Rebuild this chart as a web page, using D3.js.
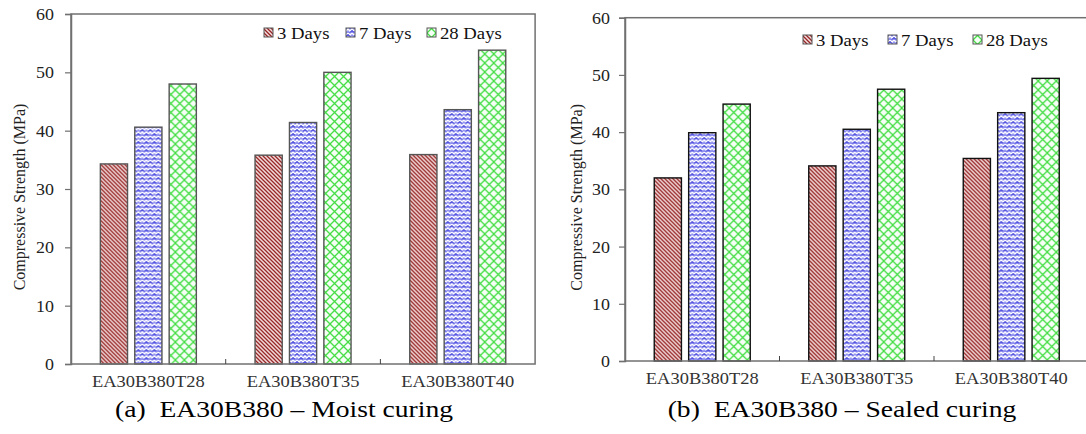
<!DOCTYPE html>
<html>
<head>
<meta charset="utf-8">
<script src="https://d3js.org/d3.v7.min.js"></script>
<style>
    body { margin: 0; background: #fff; }
    text { font-family: "Liberation Serif", "Times New Roman", serif; }
</style>
</head>
<body>
<div id="vis"></div>
<script>
    // data
    var groups = ["EA30B380T28", "EA30B380T35", "EA30B380T40"];
    var series = ["3 Days", "7 Days", "28 Days"];
    var yTicks = [0, 10, 20, 30, 40, 50, 60];

    var moist3 = [34.3, 35.8, 35.9];
    var moist7 = [40.6, 41.4, 43.6];
    var moist28 = [48.0, 50.0, 53.8];

    var sealed3 = [32.0, 34.1, 35.4];
    var sealed7 = [39.9, 40.5, 43.4];
    var sealed28 = [44.9, 47.5, 49.4];

    var svg = d3.select("#vis").append("svg")
        .attr("width", 1086)
        .attr("height", 434);

    /* patterns */
    var defs = svg.append("defs");

    var p3 = defs.append("pattern").attr("id", "pat3")
        .attr("patternUnits", "userSpaceOnUse").attr("width", 4).attr("height", 4);
    p3.append("rect").attr("width", 4).attr("height", 4).attr("fill", "#f4dede");
    p3.append("path").attr("d", "M-1,-1 L5,5 M-1,3 L1,5 M3,-1 L5,1")
        .attr("stroke", "#962424").attr("stroke-width", 1.3);

    var p7 = defs.append("pattern").attr("id", "pat7")
        .attr("patternUnits", "userSpaceOnUse").attr("width", 8).attr("height", 8);
    p7.append("rect").attr("width", 8).attr("height", 8).attr("fill", "#9292f0");
    p7.append("path").attr("d", "M0,2 L2,0 L4,2 L6,0 L8,2 M0,6 L2,4 L4,6 L6,4 L8,6")
        .attr("stroke", "#ffffff").attr("stroke-width", 1.3).attr("fill", "none");
    p7.append("path").attr("d", "M0,3.5 L2,1.5 L4,3.5 M4,7.5 L6,5.5 L8,7.5")
        .attr("stroke", "#1a1ad0").attr("stroke-width", 1).attr("fill", "none");

    var p28 = defs.append("pattern").attr("id", "pat28")
        .attr("patternUnits", "userSpaceOnUse").attr("width", 9).attr("height", 9);
    p28.append("rect").attr("width", 9).attr("height", 9).attr("fill", "#f6fff6");
    p28.append("path").attr("d", "M0,0 L9,9 M9,0 L0,9")
        .attr("stroke", "#44dd44").attr("stroke-width", 1.3);

    var fills = ["url(#pat3)", "url(#pat7)", "url(#pat28)"];

    // the figure's lettering is a little wider than the plain font
    function wide(sel, x, y, k) {
        sel.attr("transform", "translate(" + x + "," + y + ") scale(" + k + ",1)");
    }

    function panel(o) {
        var g = svg.append("g");
        var x0 = d3.scaleBand().domain(groups).range([o.left, o.left + o.groupW * groups.length]);
        var y = d3.scaleLinear().domain([0, 60]).range([o.bottom, o.top]);
        var x1 = d3.scaleBand().domain(series).range([-48, 48]).paddingInner(0.21);

        // bars
        var rows = groups.map(function (gr, i) {
            return { group: gr, values: o.data.map(function (s) { return s[i]; }) };
        });
        var gg = g.selectAll(".grp").data(rows).enter().append("g")
            .attr("transform", function (d) { return "translate(" + (x0(d.group) + x0.bandwidth() / 2) + ",0)"; });
        gg.selectAll("rect").data(function (d) { return d.values; }).enter().append("rect")
            .attr("x", function (d, i) { return x1(series[i]); })
            .attr("width", x1.bandwidth())
            .attr("y", function (d) { return y(d); })
            .attr("height", function (d) { return y(0) - y(d); })
            .attr("fill", function (d, i) { return fills[i]; })
            .attr("stroke", o.barStroke).attr("stroke-width", 1.4);

        // frame
        var right = o.left + o.groupW * groups.length;
        g.append("rect").attr("x", o.left).attr("y", y(60))
            .attr("width", right - o.left).attr("height", y(0) - y(60))
            .attr("fill", "none").attr("stroke", "#707070").attr("stroke-width", 1.5);

        // y axis
        var ya = g.append("g").attr("transform", "translate(" + o.left + ",0)")
            .call(d3.axisLeft(y).tickValues(yTicks).tickSizeOuter(0).tickSize(6));
        ya.select(".domain").attr("stroke", "#707070").attr("stroke-width", 1.5);
        ya.selectAll(".tick line").attr("stroke", "#707070").attr("stroke-width", 1.2);
        ya.selectAll(".tick text")
            .attr("x", 0).attr("dy", "0.34em")
            .attr("font-size", 16).attr("fill", "#222")
            .style("font-family", "Liberation Serif")
            .call(wide, -o.tickPad, 0, 1.12);

        // group separators on x axis
        g.selectAll(".sep").data(groups.slice(1)).enter().append("line")
            .attr("x1", function (d) { return x0(d); }).attr("x2", function (d) { return x0(d); })
            .attr("y1", y(0)).attr("y2", y(0) - 5)
            .attr("stroke", "#444").attr("stroke-width", 1);

        g.selectAll(".xl").data(groups).enter().append("text")
            .attr("text-anchor", "middle").attr("font-size", 16.5).attr("fill", "#333")
            .each(function (d) {
                d3.select(this).call(wide, x0(d) + x0.bandwidth() / 2, o.bottom + 23, 1.12);
            })
            .text(function (d) { return d; });

        // y label
        g.append("text")
            .attr("transform", "translate(" + o.yLabelX + "," + ((o.top + o.bottom) / 2 + 8) + ") rotate(-90)")
            .attr("text-anchor", "middle").attr("font-size", 16).attr("fill", "#222")
            .text("Compressive Strength (MPa)");

        // legend
        var lg = g.selectAll(".lg").data(series).enter().append("g")
            .attr("transform", function (d, i) { return "translate(" + o.legendX[i] + "," + o.legendY + ")"; });
        lg.append("rect").attr("x", 0).attr("y", -5).attr("width", 9).attr("height", 9)
            .attr("fill", function (d, i) { return fills[i]; })
            .attr("stroke", "#555").attr("stroke-width", 1);
        lg.append("text")
            .attr("font-size", 17).attr("fill", "#111")
            .call(wide, 13, 6, 1.1)
            .text(function (d) { return d; });

        // caption
        g.append("text")
            .attr("text-anchor", "middle").attr("font-size", 24).attr("fill", "#000")
            .attr("xml:space", "preserve")
            .call(wide, o.capX, 417, 1.15)
            .text(o.caption);
    }

    panel({
        data: [moist3, moist7, moist28],
        left: 71, groupW: 154.7, top: 14, bottom: 364,
        barStroke: "#555", yLabelX: 25, tickPad: 17,
        legendX: [264, 346, 427], legendY: 33,
        capX: 284, caption: "(a)  EA30B380 \u2013 Moist curing"
    });

    panel({
        data: [sealed3, sealed7, sealed28],
        left: 625, groupW: 154.5, top: 17.7, bottom: 361,
        barStroke: "#111", yLabelX: 582, tickPad: 15,
        legendX: [803, 888, 973], legendY: 40,
        capX: 842, caption: "(b)  EA30B380 \u2013 Sealed curing"
    });
</script>
</body>
</html>
